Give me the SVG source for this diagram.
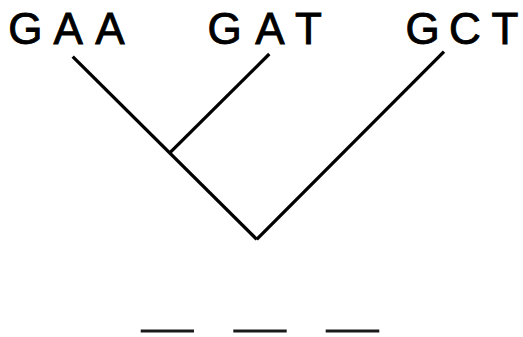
<svg xmlns="http://www.w3.org/2000/svg" width="523" height="337" viewBox="0 0 523 337">
<style>
.lbl{font-family:"Liberation Sans",Arial,sans-serif;font-size:44px;fill:#000;stroke:#000;stroke-width:0.9;text-anchor:middle}
.edge{stroke:#000;stroke-width:3.3;stroke-linecap:butt;fill:none}
.dash{stroke:#1a1a1a;stroke-width:3;fill:none}
</style>
<rect width="523" height="337" fill="#fff"/>
<g id="GAA"><text class="lbl" y="43.5"><tspan x="25.3">G</tspan><tspan x="68.3">A</tspan><tspan x="110">A</tspan></text></g>
<g id="GAT"><text class="lbl" y="43.5"><tspan x="224.5">G</tspan><tspan x="270">A</tspan><tspan x="308.5">T</tspan></text></g>
<g id="GCT"><text class="lbl" y="43.5"><tspan x="422.7">G</tspan><tspan x="465">C</tspan><tspan x="505">T</tspan></text></g>
<g id="connectors">
<line class="edge" x1="72.7" y1="56.7" x2="256.7" y2="239.3"/>
<line class="edge" x1="269.3" y1="54" x2="170" y2="152.7"/>
<line class="edge" x1="444" y1="51.7" x2="256.7" y2="239.3"/>
</g>
<g id="blanks">
<line class="dash" x1="140.7" y1="331" x2="194" y2="331"/>
<line class="dash" x1="233.3" y1="331" x2="286.7" y2="331"/>
<line class="dash" x1="325.7" y1="331" x2="379.3" y2="331"/>
</g>
</svg>
